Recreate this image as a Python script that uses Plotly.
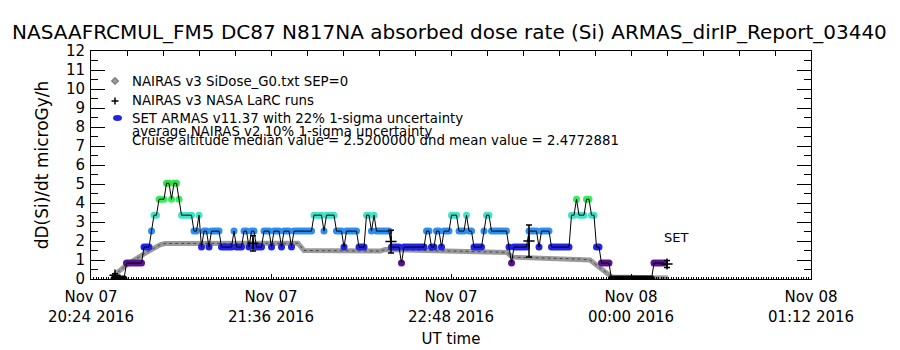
import pandas as pd
import plotly.graph_objects as go

# ---------------- data ----------------
T0 = pd.Timestamp("2016-11-07 20:24:00")
x_range = ["2016-11-07 20:24:00", "2016-11-08 01:12:00"]

tick_times = ["2016-11-07 20:24:00", "2016-11-07 21:36:00", "2016-11-07 22:48:00",
              "2016-11-08 00:00:00", "2016-11-08 01:12:00"]
tick_labels = ["Nov 07<br>20:24 2016", "Nov 07<br>21:36 2016", "Nov 07<br>22:48 2016",
               "Nov 08<br>00:00 2016", "Nov 08<br>01:12 2016"]
top_tick_minutes = [14.4 * k for k in range(21)]

# NAIRAS v3 SiDose_G0 (minutes after 20:24, microGy/h)
nairas_min = [8.8, 14.8, 21.6, 27.6, 29.6, 82.8, 85.2, 115.6, 117.6, 134.4,
              151.6, 166.4, 168.4, 195.6, 199.6, 208.4, 230.8]
nairas_val = [0.15, 0.8, 1.35, 1.8, 1.87, 1.88, 1.5, 1.47, 1.55, 1.52,
              1.45, 1.4, 1.15, 1.05, 1.0, 0.1, 0.05]

# NAIRAS v3 NASA LaRC runs
larc_min = [9.6, 64.8, 120.0, 175.2, 230.4]
larc_val = [0.2, 1.88, 1.97, 2.0, 0.79]
larc_err = [0.08, 0.4, 0.6, 0.84, 0.18]

# SET ARMAS v11.37, one-minute samples, run-length encoded
armas_start_min = 9.2
armas_step_min = 1.0
armas_levels = [0.0, 0.84, 1.68, 2.52, 3.36,
                4.2, 5.04, 4.2, 5.04, 4.2,
                3.36,
                2.52, 3.36, 1.68, 2.52, 1.68, 2.52, 1.68, 2.52, 1.68,
                2.52, 1.68, 2.52, 1.68, 2.52, 1.68, 2.52, 1.68, 2.52, 1.68, 2.52,
                3.36, 2.52, 3.36,
                2.52, 1.68, 2.52, 1.68,
                3.36, 2.52, 3.36, 2.52,
                1.68, 0.84, 1.68,
                2.52, 1.68, 2.52, 1.68, 2.52,
                3.36, 2.52, 3.36, 2.52,
                1.68, 2.52, 3.36, 2.52,
                1.68, 0.84, 1.68,
                2.52, 1.68, 2.52,
                1.68,
                3.36, 4.2, 3.36, 4.2, 3.36,
                1.68, 0.84,
                0.0,
                0.84]
armas_counts = [5, 7, 3, 1, 2,
                3, 2, 1, 2, 1,
                5,
                2, 1, 1, 2, 1, 4, 5, 1, 3,
                2, 1, 2, 3, 3, 1, 3, 1, 3, 1, 8,
                4, 1, 4,
                3, 1, 5, 3,
                2, 1, 1, 6,
                4, 1, 9,
                2, 2, 2, 1, 3,
                3, 3, 1, 2,
                4, 1, 2, 7,
                1, 1, 6,
                4, 1, 4,
                8,
                2, 1, 3, 2, 2,
                2, 4,
                17,
                5]

level_colors = {0.0: "#000000", 0.84: "#5a1290", 1.68: "#2222e8", 2.52: "#2a8ef2",
                3.36: "#3fe3c8", 4.2: "#33ee5a", 5.04: "#33e046"}

# ---------------- derived ----------------
def tm(m):
    return T0 + pd.to_timedelta(m, unit="min")

armas_vals = []
for lv, n in zip(armas_levels, armas_counts):
    armas_vals += [lv] * n
armas_t = [tm(armas_start_min + armas_step_min * i) for i in range(len(armas_vals))]
armas_col = [level_colors[v] for v in armas_vals]

nairas_t = [tm(m) for m in nairas_min]
larc_t = [tm(m) for m in larc_min]
top_ticks = [tm(m) for m in top_tick_minutes]

FONT = "DejaVu Sans"
L, R, T, B = 91, 89, 51, 71
W, H = 900, 350
PW, PH = W - L - R, H - T - B

def px(x):
    return (x - L) / PW

def py(y):
    return (H - B - y) / PH

fig = go.Figure()

fig.add_trace(go.Scatter(x=nairas_t, y=nairas_val, mode="lines",
                         line=dict(color="#9a9a9a", width=5), showlegend=False,
                         hoverinfo="skip"))
fig.add_trace(go.Scatter(x=nairas_t, y=nairas_val, mode="lines",
                         line=dict(color="#4a4a4a", width=1, dash="dot"), showlegend=False,
                         hoverinfo="skip"))
fig.add_trace(go.Scatter(x=armas_t, y=armas_vals, mode="markers",
                         marker=dict(color=armas_col, size=7, symbol="circle", line=dict(width=0)),
                         showlegend=False))
fig.add_trace(go.Scatter(x=armas_t, y=armas_vals, mode="lines",
                         line=dict(color="black", width=1), showlegend=False,
                         hoverinfo="skip"))
fig.add_trace(go.Scatter(x=larc_t, y=larc_val, mode="markers",
                         marker=dict(symbol="cross-thin-open", size=8, color="black",
                                     line=dict(color="black", width=1.5)),
                         error_y=dict(type="data", array=larc_err, color="black",
                                      thickness=1.5, width=3),
                         showlegend=False))
fig.add_trace(go.Scatter(x=[], y=[], xaxis="x2", showlegend=False, hoverinfo="skip"))

fig.update_layout(
    width=W, height=H, autosize=False,
    margin=dict(l=L, r=R, t=T, b=B, autoexpand=False),
    paper_bgcolor="white", plot_bgcolor="white",
    font=dict(family=FONT, color="black"),
    showlegend=False,
    xaxis=dict(type="date", range=x_range, tickmode="array", tickvals=tick_times,
               ticktext=tick_labels, ticks="inside", ticklen=5, tickcolor="black",
               showline=True, linecolor="black", linewidth=1, showgrid=False,
               zeroline=False, tickfont=dict(size=15, family=FONT),
               ticklabelstandoff=4, automargin=False,
               minor=dict(dtick=60000, tick0="2016-11-07 20:24:00", ticks="inside",
                          ticklen=2, tickcolor="black", showgrid=False),
               title=dict(text="UT time", font=dict(size=15, family=FONT), standoff=8)),
    xaxis2=dict(type="date", range=x_range, overlaying="x", side="top",
                tickmode="array", tickvals=top_ticks, ticks="inside", ticklen=5,
                tickcolor="black", showticklabels=False, showline=True, automargin=False,
                linecolor="black", linewidth=1, showgrid=False, zeroline=False),
    yaxis=dict(range=[0, 12], tickmode="array", tickvals=list(range(13)),
               ticks="inside", ticklen=14, tickcolor="black", mirror="ticks",
               showline=True, linecolor="black", linewidth=1, showgrid=False,
               zeroline=False, tickfont=dict(size=15, family=FONT),
               ticklabelstandoff=2, automargin=False,
               minor=dict(dtick=0.5, tick0=0, ticks="inside", ticklen=7,
                          tickcolor="black", showgrid=False),
               title=dict(text="dD(Si)/dt microGy/h", font=dict(size=17, family=FONT),
                          standoff=12)),
)

fig.add_annotation(text="NASAAFRCMUL_FM5 DC87 N817NA absorbed dose rate (Si) ARMAS_dirIP_Report_03440",
                   xref="paper", yref="paper", x=(449 - L) / PW, y=py(32),
                   xanchor="center", yanchor="middle", showarrow=False,
                   font=dict(size=20, family=FONT))

legend_lines = [
    ("NAIRAS v3 SiDose_G0.txt SEP=0", 81),
    ("NAIRAS v3 NASA LaRC runs", 100),
    ("SET ARMAS v11.37 with 22% 1-sigma uncertainty", 118),
    ("average NAIRAS v2 10% 1-sigma uncertainty", 131),
    ("Cruise altitude median value = 2.5200000 dnd mean value = 2.4772881", 140),
]
for txt, yy in legend_lines:
    fig.add_annotation(text=txt, xref="paper", yref="paper", x=px(130), y=py(yy),
                       xanchor="left", yanchor="middle", showarrow=False,
                       font=dict(size=13.3, family=FONT))

fig.add_annotation(text="SET", xref="paper", yref="paper", x=px(676), y=py(237),
                   xanchor="center", yanchor="middle", showarrow=False,
                   font=dict(size=13, family=FONT))

# legend symbols
fig.add_shape(type="path", xref="paper", yref="paper", xsizemode="pixel", ysizemode="pixel",
              xanchor=px(115), yanchor=py(81), path="M 0 3.5 L 3.5 0 L 0 -3.5 L -3.5 0 Z",
              fillcolor="#9a9a9a", line=dict(color="#555555", width=1))
fig.add_shape(type="line", xref="paper", yref="paper", xsizemode="pixel", ysizemode="pixel",
              xanchor=px(115), yanchor=py(101), x0=-3.5, x1=3.5, y0=0, y1=0,
              line=dict(color="black", width=1.5))
fig.add_shape(type="line", xref="paper", yref="paper", xsizemode="pixel", ysizemode="pixel",
              xanchor=px(115), yanchor=py(101), x0=0, x1=0, y0=-3.5, y1=3.5,
              line=dict(color="black", width=1.5))
fig.add_shape(type="circle", xref="paper", yref="paper", xsizemode="pixel", ysizemode="pixel",
              xanchor=px(117.5), yanchor=py(118), x0=-4.5, x1=4.5, y0=-3, y1=3,
              fillcolor="#2222e8", line=dict(width=0))

fig.write_html("out.html")
